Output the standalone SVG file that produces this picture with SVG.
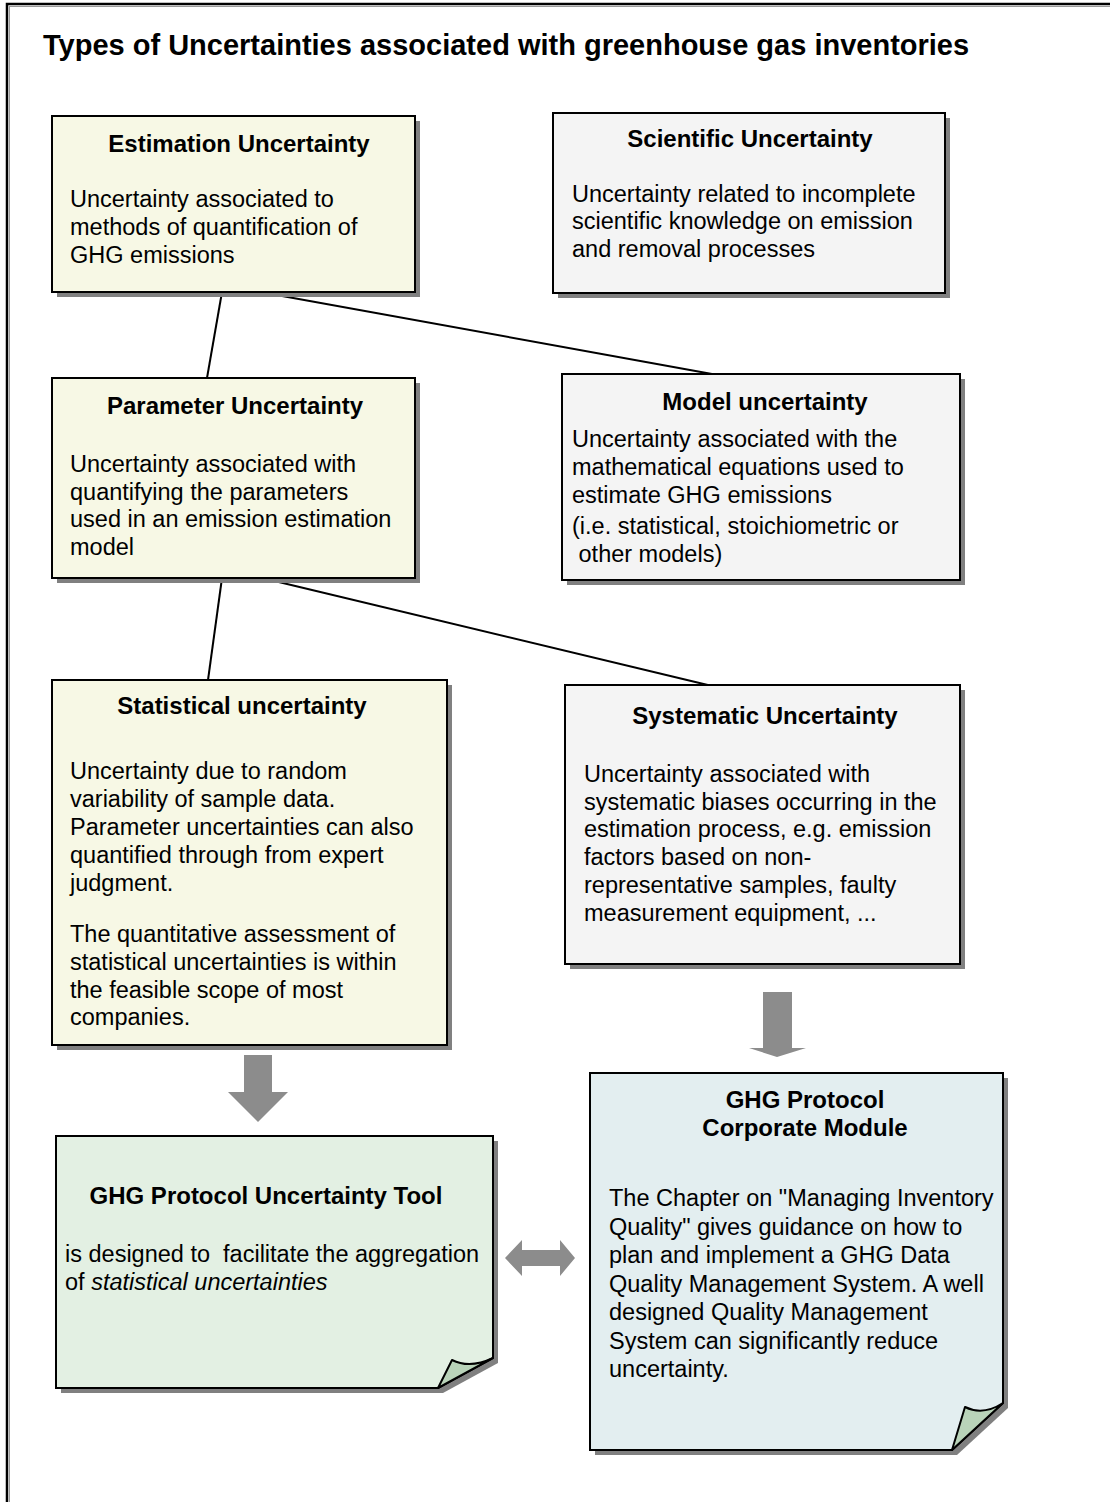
<svg xmlns="http://www.w3.org/2000/svg" width="1110" height="1502" viewBox="0 0 1110 1502">
<style>
text{font-family:"Liberation Sans",Arial,sans-serif;fill:#000}
.t{font-size:24px;font-weight:bold;text-anchor:middle}
.b{font-size:23.5px}
.h{font-size:29px;font-weight:bold}
.box{stroke:#000;stroke-width:2}
.sh{fill:#808080}
.y{fill:#F7F8E5}
.g{fill:#F4F4F4}
.gr{fill:#E3F0E3}
.bl{fill:#E3EEF0}
.flap{fill:#B9D3B9;stroke:#000;stroke-width:2;stroke-linejoin:round}
.con{stroke:#000;stroke-width:2;fill:none}
.arr{fill:#8C8C8C}
</style>
<rect x="0" y="0" width="1110" height="1502" fill="#fff"/>
<rect x="7" y="4" width="1130" height="1530" fill="none" stroke="#000" stroke-width="2.5"/>
<rect x="9.5" y="6.5" width="1130" height="1530" fill="none" stroke="#999" stroke-width="1"/>
<text class="h" x="43" y="55">Types of Uncertainties associated with greenhouse gas inventories</text>

<g id="connectors">
<line class="con" x1="222" y1="292" x2="207" y2="378"/>
<line class="con" x1="260" y1="292" x2="712" y2="374"/>
<line class="con" x1="222" y1="578" x2="208" y2="680"/>
<line class="con" x1="262" y1="578" x2="712" y2="686"/>
<polygon class="arr" points="244,1055 272,1055 272,1092 288,1092 258,1122 228,1092 244,1092"/>
<polygon class="arr" points="763,992 792,992 792,1048 806,1048 777,1057 749,1048 763,1048"/>
<polygon class="arr" points="505,1258 522,1240 522,1250 560,1250 560,1240 575,1258 560,1276 560,1266 522,1266 522,1276"/>
</g>

<g id="estimation">
<rect class="sh" x="57" y="121" width="363" height="176"/>
<rect class="box y" x="52" y="116" width="363" height="176"/>
<text class="t" x="239" y="152">Estimation Uncertainty</text>
<text class="b"><tspan x="70" y="207">Uncertainty associated to</tspan><tspan x="70" y="235">methods of quantification of</tspan><tspan x="70" y="263">GHG emissions</tspan></text>
</g>

<g id="scientific">
<rect class="sh" x="558" y="118" width="392" height="180"/>
<rect class="box g" x="553" y="113" width="392" height="180"/>
<text class="t" x="750" y="147">Scientific Uncertainty</text>
<text class="b"><tspan x="572" y="202">Uncertainty related to incomplete</tspan><tspan x="572" y="229">scientific knowledge on emission</tspan><tspan x="572" y="257">and removal processes</tspan></text>
</g>

<g id="parameter">
<rect class="sh" x="57" y="383" width="363" height="200"/>
<rect class="box y" x="52" y="378" width="363" height="200"/>
<text class="t" x="235" y="414">Parameter Uncertainty</text>
<text class="b"><tspan x="70" y="472">Uncertainty associated with</tspan><tspan x="70" y="500">quantifying the parameters</tspan><tspan x="70" y="527">used in an emission estimation</tspan><tspan x="70" y="555">model</tspan></text>
</g>

<g id="model">
<rect class="sh" x="567" y="379" width="398" height="206"/>
<rect class="box g" x="562" y="374" width="398" height="206"/>
<text class="t" x="765" y="410">Model uncertainty</text>
<text class="b"><tspan x="572" y="447">Uncertainty associated with the</tspan><tspan x="572" y="475">mathematical equations used to</tspan><tspan x="572" y="503">estimate GHG emissions</tspan><tspan x="572" y="534">(i.e. statistical, stoichiometric or</tspan><tspan x="572" y="562">&#160;other models)</tspan></text>
</g>

<g id="statistical">
<rect class="sh" x="57" y="685" width="395" height="365"/>
<rect class="box y" x="52" y="680" width="395" height="365"/>
<text class="t" x="242" y="714">Statistical uncertainty</text>
<text class="b"><tspan x="70" y="779">Uncertainty due to random</tspan><tspan x="70" y="807">variability of sample data.</tspan><tspan x="70" y="835">Parameter uncertainties can also</tspan><tspan x="70" y="863">quantified through from expert</tspan><tspan x="70" y="891">judgment.</tspan><tspan x="70" y="942">The quantitative assessment of</tspan><tspan x="70" y="970">statistical uncertainties is within</tspan><tspan x="70" y="998">the feasible scope of most</tspan><tspan x="70" y="1025">companies.</tspan></text>
</g>

<g id="systematic">
<rect class="sh" x="570" y="690" width="395" height="279"/>
<rect class="box g" x="565" y="685" width="395" height="279"/>
<text class="t" x="765" y="724">Systematic Uncertainty</text>
<text class="b"><tspan x="584" y="782">Uncertainty associated with</tspan><tspan x="584" y="810">systematic biases occurring in the</tspan><tspan x="584" y="837">estimation process, e.g. emission</tspan><tspan x="584" y="865">factors based on non-</tspan><tspan x="584" y="893">representative samples, faulty</tspan><tspan x="584" y="921">measurement equipment, ...</tspan></text>
</g>

<g id="uncertainty-tool">
<path class="sh" d="M61,1141 H498 V1363 L443,1393 H61 Z"/>
<path class="box gr" d="M56,1136 H493 V1358 L438,1388 H56 Z"/>
<path class="flap" d="M438,1388 L452,1360 Q470,1369 493,1358 Z"/>
<text class="t" x="266" y="1204">GHG Protocol Uncertainty Tool</text>
<text class="b"><tspan x="65" y="1262">is designed to&#160; facilitate the aggregation</tspan><tspan x="65" y="1290">of <tspan font-style="italic">statistical uncertainties</tspan></tspan></text>
</g>

<g id="corporate-module">
<path class="sh" d="M595,1078 H1008 V1408 L957,1455 H595 Z"/>
<path class="box bl" d="M590,1073 H1003 V1403 L952,1450 H590 Z"/>
<path class="flap" d="M952,1450 L965,1407 Q983,1416 1003,1403 Z"/>
<text class="t" x="805" y="1108">GHG Protocol</text>
<text class="t" x="805" y="1136">Corporate Module</text>
<text class="b"><tspan x="609" y="1206">The Chapter on "Managing Inventory</tspan><tspan x="609" y="1235">Quality" gives guidance on how to</tspan><tspan x="609" y="1263">plan and implement a GHG Data</tspan><tspan x="609" y="1292">Quality Management System. A well</tspan><tspan x="609" y="1320">designed Quality Management</tspan><tspan x="609" y="1349">System can significantly reduce</tspan><tspan x="609" y="1377">uncertainty.</tspan></text>
</g>
</svg>
